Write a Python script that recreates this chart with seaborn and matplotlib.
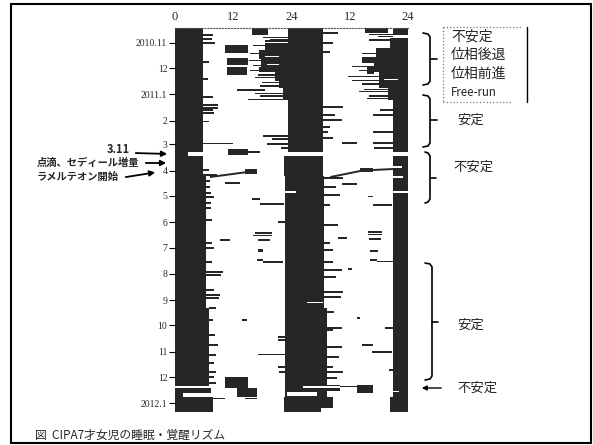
import numpy as np
import pandas as pd
import matplotlib
matplotlib.use("Agg")
import matplotlib.pyplot as plt
import seaborn as sns
from matplotlib.lines import Line2D
from matplotlib.patches import Rectangle

# ---------------------------------------------------------------
# Datos (días desde 2010-10-15, horas en el eje doble 0-48)
# ---------------------------------------------------------------
start = pd.Timestamp("2010-10-15")
n_days = 453

month_starts = pd.date_range("2010-11-01", "2012-01-01", freq="MS")
month_labels = ["2010.11", "12", "2011.1", "2", "3", "4", "5", "6", "7", "8",
                "9", "10", "11", "12", "2012.1"]
hour_ticks = [0, 12, 24, 36, 48]
hour_labels = ["0", "12", "24", "12", "24"]

# bloques de sueño (día inicio, día fin, hora inicio, hora fin)
blk_d0 = [0, 146, 151, 174, 330, 425, 431, 436,
          0, 0, 17, 26, 36, 46, 52, 62, 70, 151, 174, 330, 421, 436,
          0, 0, 11, 23, 36, 52, 70, 85, 151, 436,
          20, 35, 46, 34, 46, 142, 166, 165, 200, 261, 272, 262, 272, 412, 425, 421]
blk_d1 = [146, 151, 174, 330, 423, 431, 436, 453,
          146, 8, 26, 36, 46, 52, 62, 70, 85, 174, 330, 436, 429, 453,
          8, 5, 23, 36, 52, 70, 85, 146, 436, 453,
          29, 43, 55, 41, 54, 150, 172, 170, 203, 264, 275, 264, 275, 425, 435, 431]
blk_h0 = [0, 0, 0, 0, 0, 0, 0, 0,
          23.3, 15.9, 18.5, 17.3, 17.8, 17.3, 20.6, 21.5, 22.3, 22.5, 22.6, 22.7, 31.3, 22.5,
          45.0, 39.1, 44.3, 41.5, 41.0, 42.0, 43.9, 45.0, 45.0, 44.2,
          10.3, 10.7, 10.7, 38.6, 39.5, 10.9, 14.4, 38.1, 15.9, 17.1, 16.9, 40.2, 40.2, 10.3, 12.8, 37.5]
blk_h1 = [5.8, 2.7, 5.8, 6.4, 7.0, 7.5, 1.6, 7.8,
          30.5, 19.2, 23.3, 23.3, 23.3, 23.3, 23.3, 23.3, 23.3, 30.5, 30.7, 31.3, 34.0, 32.5,
          48.0, 43.9, 48.0, 48.0, 48.0, 48.0, 48.0, 48.0, 48.0, 48.0,
          15.0, 15.0, 14.8, 42.6, 41.0, 15.0, 16.9, 40.8, 17.5, 18.1, 18.1, 41.8, 41.6, 15.0, 16.9, 40.8]

# vigilia dentro de los bloques
wake_d0 = [423, 430, 192, 192, 181, 163, 174, 323, 428, 33, 42, 60, 449]
wake_d1 = [424.5, 434, 194, 194, 182, 165, 177, 325, 430, 34, 43, 61, 453]
wake_h0 = [26.4, 23.1, 22.6, 45.0, 22.6, 45.0, 45.0, 27.2, 44.2, 18.5, 19.0, 43.0, 30.0]
wake_h1 = [34.0, 29.3, 25.0, 48.0, 24.5, 46.8, 47.0, 30.5, 46.2, 21.5, 21.5, 46.0, 32.5]

# episodios cortos de un día
spk_day = [8, 12.6, 17.4, 40, 60, 81, 90.6, 94.2, 96.5, 100, 110, 136, 167.4, 173.3,
           180.4, 187.5, 194.6, 199.3, 206.4, 212.3, 226.5, 253.6, 259.5, 276.1, 288,
           291.5, 309.2, 315.1, 318.6, 330.4, 344.6, 362.3, 374.1, 386, 395.4, 406,
           411.9, 419, 437,
           11, 13, 15, 20, 30, 38, 44, 50, 55, 58, 64, 68, 73, 77, 80, 84,
           127.2, 130.8, 136.7, 141.4, 228.8, 364.7, 368.2, 400.1, 406,
           5.6, 17.4, 28, 93, 102.4, 108.3, 116.6, 122.5, 129.6, 176.8, 187.5, 196.9,
           208.7, 232.4, 253.6, 261.9, 276.1, 285.5, 293.8, 311.5, 317.4, 335.1, 354,
           356.4, 376.5, 388.3, 400.1, 406, 413.1,
           7, 10, 14, 30, 45, 50, 57, 62, 66, 72, 75, 80, 83,
           96.5, 102.4, 122.5, 135.5, 141.4, 354, 403.7,
           182.7, 183.9, 207.6, 199, 208.7, 135.5, 250.1, 241.8, 244.6, 250.1, 276.1,
           240.6, 243.4, 248.9, 275.5, 247.7, 284.4, 344.6, 342.2, 385, 382.4, 374.1,
           437, 423, 146]
spk_h0 = [5.8, 5.8, 5.8, 5.8, 5.8, 5.8, 5.8, 5.8, 5.8, 5.8, 5.8, 5.8, 5.8, 5.8,
          6.4, 6.4, 6.4, 6.4, 6.4, 6.4, 6.4, 6.4, 6.4, 6.4, 6.4,
          6.4, 6.4, 6.4, 6.4, 7.0, 7.0, 7.0, 7.0, 7.0, 7.0, 7.0,
          7.0, 7.0, 7.8,
          18.1, 19.5, 18.5, 16.0, 15.5, 15.2, 16.0, 15.4, 17.0, 16.5, 18.0, 17.5, 12.8, 16.5, 17.5, 15.0,
          18.1, 20.0, 19.0, 21.8, 21.2, 21.2, 21.2, 21.2, 21.5,
          30.5, 30.5, 30.5, 30.5, 30.5, 30.5, 30.5, 30.5, 30.5, 30.5, 30.5, 30.5,
          30.5, 30.7, 30.7, 30.7, 30.7, 30.7, 30.7, 30.7, 30.7, 31.3, 31.3,
          31.3, 31.3, 31.3, 31.3, 31.3, 31.3,
          40.0, 41.8, 40.0, 38.5, 36.5, 38.0, 35.6, 36.5, 38.5, 39.0, 38.0, 40.0, 39.5,
          42.2, 40.8, 40.8, 40.8, 41.0, 43.3, 44.0,
          10.3, 34.4, 17.5, 39.8, 40.8, 34.4, 9.3, 16.5, 16.1, 17.1, 18.1,
          39.8, 39.8, 40.0, 41.6, 33.6, 35.6, 13.8, 37.5, 17.1, 40.6, 38.5,
          14.4, 33.0, 15.0]
spk_h1 = [7.8, 7.6, 8.2, 7.0, 6.8, 7.8, 8.9, 8.9, 7.8, 8.0, 7.0, 11.9, 7.0, 8.6,
          7.2, 7.2, 7.4, 8.0, 7.4, 7.4, 7.6, 7.6, 8.0, 7.6, 9.9,
          9.5, 8.0, 9.3, 9.0, 8.4, 7.8, 8.2, 8.9, 8.4, 8.0, 8.4,
          8.0, 8.4, 10.3,
          23.3, 23.3, 23.3, 18.5, 17.3, 17.8, 17.8, 17.3, 20.6, 20.6, 21.5, 21.5, 18.5, 22.3, 22.3, 22.3,
          23.3, 23.3, 23.3, 23.3, 22.6, 22.7, 22.7, 22.7, 22.7,
          33.6, 32.6, 32.0, 34.6, 33.0, 34.4, 32.0, 31.5, 32.6, 34.6, 33.2, 34.0,
          31.9, 33.6, 31.9, 32.6, 32.6, 34.4, 33.2, 34.6, 34.2, 32.8, 34.4,
          32.6, 34.4, 33.8, 32.6, 34.6, 33.4,
          46.0, 45.0, 44.3, 41.5, 41.0, 41.0, 42.0, 42.0, 42.0, 43.9, 43.9, 43.9, 43.9,
          45.0, 45.0, 45.0, 45.0, 45.0, 45.0, 45.0,
          13.4, 37.5, 22.5, 40.8, 44.7, 37.5, 11.3, 20.0, 20.0, 19.6, 22.2,
          42.6, 42.6, 42.4, 45.0, 35.4, 36.5, 14.8, 38.1, 22.7, 44.7, 40.8,
          16.9, 37.5, 17.5]

# deriva del sueño tras ラメルテオン
drift1_h = [7.2, 14.6]
drift1_d = [175.7, 170.0]
drift2_h = [32.0, 38.2]
drift2_d = [175.7, 168.5]
drift3_h = [40.8, 45.0]
drift3_d = [167.4, 166.2]

# ---------------------------------------------------------------
sns.set_theme(style="white")
plt.rcParams["font.family"] = ["Noto Sans CJK JP", "DejaVu Sans"]

W, H = 593, 445
fig = plt.figure(figsize=(W / 100, H / 100), dpi=100)
ax = fig.add_axes([175 / W, 1 - 411.8 / H, 233 / W, 383.5 / H])

ink = "#262626"

blocks = pd.DataFrame({"d0": blk_d0, "d1": blk_d1, "h0": blk_h0, "h1": blk_h1})
ax.barh(y=(blocks.d0 + blocks.d1) / 2, width=blocks.h1 - blocks.h0, left=blocks.h0,
        height=blocks.d1 - blocks.d0, color=ink, linewidth=0)

spikes = pd.DataFrame({"d": spk_day, "h0": spk_h0, "h1": spk_h1})
ax.barh(y=spikes.d, width=spikes.h1 - spikes.h0, left=spikes.h0, height=1.6,
        color=ink, linewidth=0)

wake = pd.DataFrame({"d0": wake_d0, "d1": wake_d1, "h0": wake_h0, "h1": wake_h1})
ax.barh(y=(wake.d0 + wake.d1) / 2, width=wake.h1 - wake.h0, left=wake.h0,
        height=wake.d1 - wake.d0, color="white", linewidth=0)

for hh, dd in [(drift1_h, drift1_d), (drift2_h, drift2_d), (drift3_h, drift3_d)]:
    ax.plot(hh, dd, color=ink, lw=1.4, solid_capstyle="butt")

ax.set_xlim(0, 48)
ax.set_ylim(n_days, 0)

ax.xaxis.tick_top()
ax.set_xticks(hour_ticks)
ax.set_xticklabels(hour_labels, fontfamily="Liberation Serif", fontsize=9)
ax.tick_params(axis="x", length=0, pad=4)

ytick_pos = [(d - start).days for d in month_starts]
ax.set_yticks(ytick_pos)
ax.set_yticklabels(month_labels, fontfamily="Liberation Serif", fontsize=7)
ax.tick_params(axis="y", left=True, length=4, width=0.8, pad=1.5, color="black")

for s in ["left", "right", "bottom"]:
    ax.spines[s].set_visible(False)
ax.spines["top"].set_linestyle(":")
ax.spines["top"].set_color("#555555")
ax.spines["top"].set_linewidth(0.8)


# --- anotaciones (en píxeles de la imagen) ---
def fx(x):
    return x / W


def fy(y):
    return 1 - y / H


def fig_line(xs, ys, **kw):
    fig.add_artist(Line2D([fx(v) for v in xs], [fy(v) for v in ys],
                          transform=fig.transFigure, **kw))


# marco
fig.add_artist(Rectangle((fx(11), fy(443)), fx(591) - fx(11), fy(4) - fy(443),
                         transform=fig.transFigure, fill=False, lw=1.5, color="black"))

# llaves
braces = [(423, 430, 437, 33, 59, 85), (423, 430, 437, 95, 120, 147),
          (425, 430, 436, 152, 178, 203), (425, 432, 438, 263, 322, 380)]
for x0, x1, x2, top, mid, bot in braces:
    fig_line([x0, x1 - 2, x1, x1, x2], [top, top + 1, top + 4, mid, mid], color="black", lw=1.2)
    fig_line([x1, x1, x1 - 2, x0], [mid, bot - 4, bot - 1, bot], color="black", lw=1.2)

# recuadro de leyenda
fig_line([443, 443], [27, 102], color="#777777", lw=0.9, ls=":")
fig_line([443, 522], [27, 27], color="#777777", lw=0.9, ls=":")
fig_line([443, 512], [102, 102], color="#777777", lw=0.9, ls=":")
fig_line([527, 527], [27, 102], color="black", lw=1.0)

fig.text(fx(451), fy(37), "不安定", fontsize=10, va="center", ha="left")
fig.text(fx(451), fy(55), "位相後退", fontsize=10, va="center", ha="left")
fig.text(fx(451), fy(74), "位相前進", fontsize=10, va="center", ha="left")
fig.text(fx(451), fy(92), "Free-run", fontsize=8.3, va="center", ha="left")

fig.text(fx(457), fy(120), "安定", fontsize=9.6, va="center", ha="left")
fig.text(fx(453), fy(167), "不安定", fontsize=9.6, va="center", ha="left")
fig.text(fx(457), fy(325), "安定", fontsize=9.6, va="center", ha="left")
fig.text(fx(457), fy(388), "不安定", fontsize=9.6, va="center", ha="left")
ax.annotate("", xy=(fx(419), fy(388)), xytext=(fx(444), fy(388)),
            xycoords="figure fraction", textcoords="figure fraction",
            arrowprops=dict(arrowstyle="-|>", lw=1.0, color="black", mutation_scale=7))

# eventos a la izquierda
fig.text(fx(107), fy(150), "3.11", fontsize=8, fontweight="bold", va="center", ha="left")
fig.text(fx(37), fy(163), "点滴、セディール増量", fontsize=7.4, fontweight="bold",
         va="center", ha="left")
fig.text(fx(37), fy(177), "ラメルテオン開始", fontsize=7.4, fontweight="bold",
         va="center", ha="left")
arrows = [((133, 153), (170, 154)), ((143, 163), (169, 163)), ((123, 177.5), (158, 172))]
for (x0, y0), (x1, y1) in arrows:
    ax.annotate("", xy=(fx(x1), fy(y1)), xytext=(fx(x0), fy(y0)),
                xycoords="figure fraction", textcoords="figure fraction",
                arrowprops=dict(arrowstyle="-|>", lw=1.3, color="black", mutation_scale=8))

fig.text(fx(35), fy(435), "図  CIPA7才女児の睡眠・覚醒リズム", fontsize=8.5,
         va="center", ha="left")

fig.savefig("out.png", dpi=100)
